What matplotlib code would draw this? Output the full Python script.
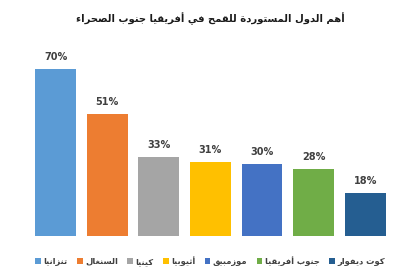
import matplotlib
matplotlib.use('Agg')
import matplotlib.pyplot as plt

# Data
countries = ['تنزانيا', 'السنغال', 'كينيا', 'أثيوبيا', 'موزمبيق', 'جنوب أفريقيا', 'كوت ديفوار']
shares = [70, 51, 33, 31, 30, 28, 18]
colors = ['#5B9BD5', '#ED7D31', '#A5A5A5', '#FFC000', '#4472C4', '#70AD47', '#255E91']
title = 'أهم الدول المستوردة للقمح في أفريقيا جنوب الصحراء'

# minimal Arabic shaping (matplotlib does not join Arabic letters)
DUAL = {'ئ': 0xFE89, 'ب': 0xFE8F, 'ت': 0xFE95, 'ث': 0xFE99, 'ج': 0xFE9D, 'ح': 0xFEA1,
        'خ': 0xFEA5, 'س': 0xFEB1, 'ش': 0xFEB5, 'ص': 0xFEB9, 'ض': 0xFEBD, 'ط': 0xFEC1,
        'ظ': 0xFEC5, 'ع': 0xFEC9, 'غ': 0xFECD, 'ف': 0xFED1, 'ق': 0xFED5, 'ك': 0xFED9,
        'ل': 0xFEDD, 'م': 0xFEE1, 'ن': 0xFEE5, 'ه': 0xFEE9, 'ي': 0xFEF1}
RIGHT = {'آ': 0xFE81, 'أ': 0xFE83, 'ؤ': 0xFE85, 'إ': 0xFE87, 'ا': 0xFE8D, 'ة': 0xFE93,
         'د': 0xFEA9, 'ذ': 0xFEAB, 'ر': 0xFEAD, 'ز': 0xFEAF, 'و': 0xFEED, 'ى': 0xFEEF,
         'ء': 0xFE80}
LAMALEF = {'آ': 0xFEF5, 'أ': 0xFEF7, 'إ': 0xFEF9, 'ا': 0xFEFB}


def shape(text):
    chars = []
    i = 0
    while i < len(text):
        c = text[i]
        if c == 'ل' and i + 1 < len(text) and text[i + 1] in LAMALEF:
            chars.append(('LA', LAMALEF[text[i + 1]]))
            i += 2
        else:
            chars.append((c, None))
            i += 1
    out = []
    for k, (c, lig) in enumerate(chars):
        prev = chars[k - 1][0] if k > 0 else ' '
        nxt = chars[k + 1][0] if k + 1 < len(chars) else ' '
        join_prev = prev in DUAL
        if lig is not None:
            out.append(chr(lig + (1 if join_prev else 0)))
            continue
        if c in DUAL:
            join_next = nxt in DUAL or nxt in RIGHT or nxt == 'LA'
            join_next = join_next and nxt != 'ء'
            if join_prev and join_next:
                out.append(chr(DUAL[c] + 3))
            elif join_prev:
                out.append(chr(DUAL[c] + 1))
            elif join_next:
                out.append(chr(DUAL[c] + 2))
            else:
                out.append(chr(DUAL[c]))
        elif c in RIGHT:
            if join_prev and c != 'ء':
                out.append(chr(RIGHT[c] + 1))
            else:
                out.append(chr(RIGHT[c]))
        else:
            out.append(c)
    return ''.join(out)[::-1]


plt.rcParams['font.family'] = ['DejaVu Sans']

fig = plt.figure(figsize=(4.2, 2.8), dpi=100)
ax = fig.add_axes([0.071, 0.157, 0.86, 0.682])

x = range(len(countries))
bars = ax.bar(x, shares, width=0.79, color=colors,
              label=[shape(c) for c in countries])
for xi, v in zip(x, shares):
    ax.text(xi, v + 3, f'{v}%', ha='center', va='bottom',
            fontsize=7, fontweight='bold', color='#404040')

ax.set_xlim(-0.5, len(countries) - 0.5)
ax.set_ylim(0, 80)
ax.axis('off')

fig.text(0.5, 0.935, shape(title), ha='center', va='center',
         fontsize=7.2, fontweight='bold', color='#1a1a1a')

fig.legend(handles=bars, labels=[shape(c) for c in countries],
           loc='center', bbox_to_anchor=(0.5, 0.068), ncol=7, frameon=False,
           handlelength=0.7, handleheight=0.7, handletextpad=0.3,
           columnspacing=1.1, labelcolor='#404040',
           prop={'weight': 'bold', 'size': 6})

fig.savefig('out.png', dpi=100)
